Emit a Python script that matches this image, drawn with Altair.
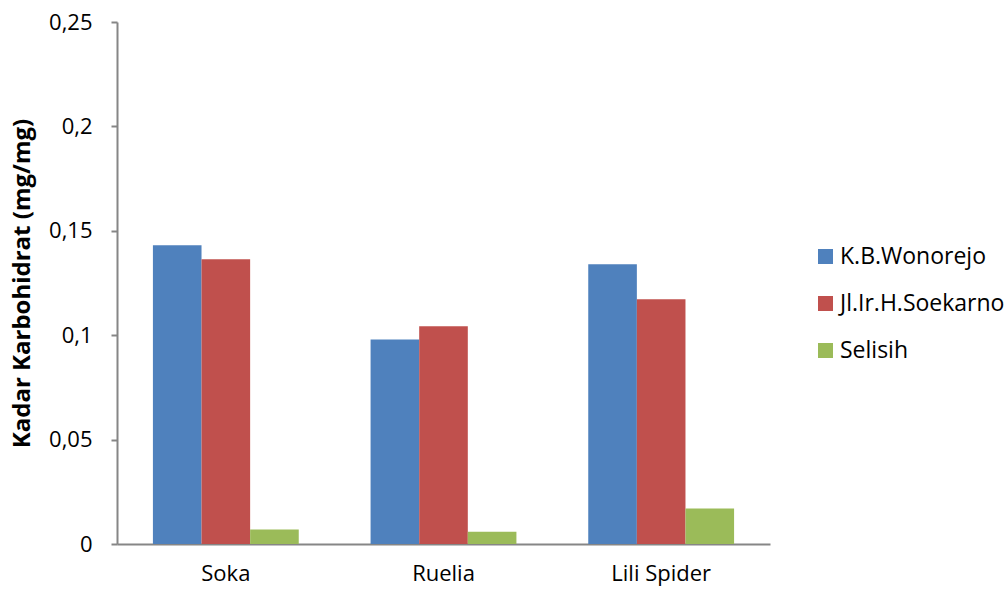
import altair as alt
import pandas as pd

categories = ["Soka", "Ruelia", "Lili Spider"]
series = ["K.B.Wonorejo", "Jl.Ir.H.Soekarno", "Selisih"]
wonorejo = [0.1431, 0.0980, 0.1340]
soekarno = [0.1364, 0.1043, 0.1172]
selisih = [0.0069, 0.0059, 0.0170]
colors = ["#4F81BD", "#C0504D", "#9BBB59"]
y_ticks = [0, 0.05, 0.1, 0.15, 0.2, 0.25]

rows = []
for vals, s in zip([wonorejo, soekarno, selisih], series):
    for c, v in zip(categories, vals):
        rows.append({"Kategori": c, "Seri": s, "Nilai": v})
df = pd.DataFrame(rows)

FONT = "Open Sans"

chart = alt.Chart(df).mark_bar().encode(
    x=alt.X("Kategori:N", sort=categories,
            scale=alt.Scale(paddingInner=0.33, paddingOuter=0.165),
            axis=alt.Axis(title=None, labelAngle=0, ticks=False, labelPadding=19,
                          labelFontSize=22, labelFont=FONT, labelColor="#000000",
                          domainColor="#868686", domainWidth=2)),
    xOffset=alt.XOffset("Seri:N", sort=series, scale=alt.Scale(paddingInner=0, paddingOuter=0)),
    y=alt.Y("Nilai:Q", scale=alt.Scale(domain=[0, 0.25], nice=False),
            axis=alt.Axis(values=y_ticks, grid=False,
                          labelExpr="replace(toString(datum.value), '.', ',')",
                          labelFontSize=22, labelFont=FONT, labelColor="#000000",
                          labelPadding=19, tickSize=6, tickColor="#868686", tickWidth=2,
                          domainColor="#868686", domainWidth=2,
                          title="Kadar Karbohidrat (mg/mg)", titleFont=FONT,
                          titleFontSize=24, titleFontWeight="bold", titleColor="#000000",
                          titleX=-95, titleY=261, titleBaseline="middle",
                          titleAlign="center", titleAngle=-90)),
    color=alt.Color("Seri:N", sort=series,
                    scale=alt.Scale(domain=series, range=colors),
                    legend=alt.Legend(title=None, orient="none", legendX=697, legendY=223,
                                      symbolType="square", symbolSize=225,
                                      symbolStrokeWidth=0, rowPadding=23,
                                      labelFontSize=23, labelFont=FONT, labelLimit=300,
                                      labelColor="#000000", labelOffset=3)),
).properties(
    width=653, height=522,
    background="white",
    autosize=alt.AutoSizeParams(type="none"),
    padding={"left": 117, "top": 22, "right": 236, "bottom": 46},
).configure_view(strokeWidth=0, stroke=None)

chart.save("out.html", embed_options={"renderer": "svg", "actions": False})
